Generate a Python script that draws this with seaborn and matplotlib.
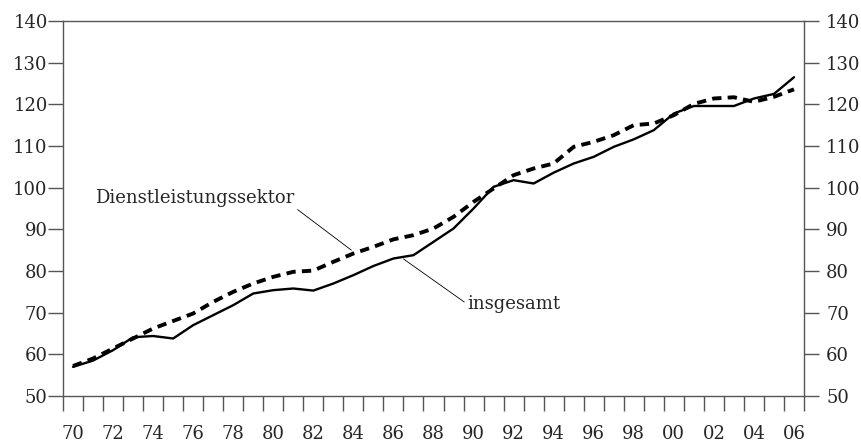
import matplotlib
matplotlib.use("Agg")
import matplotlib.pyplot as plt
import seaborn as sns
import numpy as np
import pandas as pd

# Data (index values)
years = list(range(1970, 2007))
insgesamt = [57.0, 58.5, 61.0, 64.1, 64.4, 63.8, 67.0, 69.4, 71.8, 74.6,
             75.4, 75.8, 75.3, 77.0, 79.0, 81.2, 83.0, 83.8, 87.0, 90.2,
             95.0, 100.2, 101.8, 101.0, 103.6, 105.8, 107.4, 109.8, 111.6, 113.8,
             117.8, 119.6, 119.6, 119.6, 121.4, 122.5, 126.5]
dienstleistung = [57.2, 59.0, 61.4, 63.8, 66.2, 68.0, 69.8, 72.6, 75.0, 77.0,
                  78.6, 79.8, 80.1, 82.2, 84.2, 85.8, 87.6, 88.6, 90.2, 93.0,
                  96.6, 99.8, 103.0, 104.6, 105.8, 109.8, 111.0, 112.6, 115.0, 115.4,
                  117.4, 120.1, 121.4, 121.7, 120.6, 121.8, 123.6]
year_labels = [f"{y % 100:02d}" for y in years[::2]]
y_ticks = list(range(50, 141, 10))

df = pd.DataFrame({"Jahr": years, "insgesamt": insgesamt,
                   "Dienstleistungssektor": dienstleistung})

sns.set_style("ticks")
plt.rcParams["font.family"] = ["DejaVu Serif"]
fs = 13

fig = plt.figure(figsize=(8.61, 4.45), dpi=100)
ax = fig.add_axes([63 / 861, 49 / 445, 741 / 861, 375 / 445])

sns.lineplot(data=df, x="Jahr", y="insgesamt", ax=ax, color="black", lw=1.7)
sns.lineplot(data=df, x="Jahr", y="Dienstleistungssektor", ax=ax, color="black",
             lw=2.8, dashes=False, linestyle=(0, (2.4, 1.6)))

ax.set_xlim(1969.5, 2006.5)
ax.set_ylim(50, 140)
ax.set_xlabel("")
ax.set_ylabel("")

spine_col = "#555555"
for s in ax.spines.values():
    s.set_color(spine_col)
    s.set_linewidth(1.0)

# year boundaries as ticks, labels centred on the year
ax.set_xticks(np.arange(1969.5, 2007, 1.0))
ax.set_xticklabels([])
ax.set_xticks(years[::2], minor=True)
ax.set_xticklabels(year_labels, minor=True)
ax.tick_params(axis="x", which="major", direction="out", length=11,
               width=1.0, color=spine_col)
ax.tick_params(axis="x", which="minor", length=0, pad=21, labelsize=fs)

ax.set_yticks(y_ticks)
ax.set_yticklabels([str(v) for v in y_ticks])
ax.tick_params(axis="y", direction="out", length=11, width=1.0, color=spine_col,
               labelsize=fs, pad=0)

# right-hand scale
ax2 = ax.twinx()
ax2.set_ylim(ax.get_ylim())
ax2.set_yticks(y_ticks)
ax2.set_yticklabels([str(v) for v in y_ticks])
ax2.tick_params(axis="y", direction="out", length=11, width=1.0, color=spine_col,
                labelsize=fs, pad=5)
for s in ax2.spines.values():
    s.set_visible(False)
ax2.grid(False)

ax.annotate("Dienstleistungssektor", xy=(1983.9, 85.0), xytext=(1971.1, 96.3),
            fontsize=fs, ha="left", va="baseline",
            arrowprops=dict(arrowstyle="-", color="black", lw=0.6,
                            shrinkA=0, shrinkB=0, relpos=(1.0, 0.0)))
ax.annotate("insgesamt", xy=(1986.5, 82.9), xytext=(1989.7, 72.0),
            fontsize=fs, ha="left", va="center",
            arrowprops=dict(arrowstyle="-", color="black", lw=0.6,
                            shrinkA=0, shrinkB=0, relpos=(0.0, 0.5)))

fig.savefig("out.png", dpi=100)
